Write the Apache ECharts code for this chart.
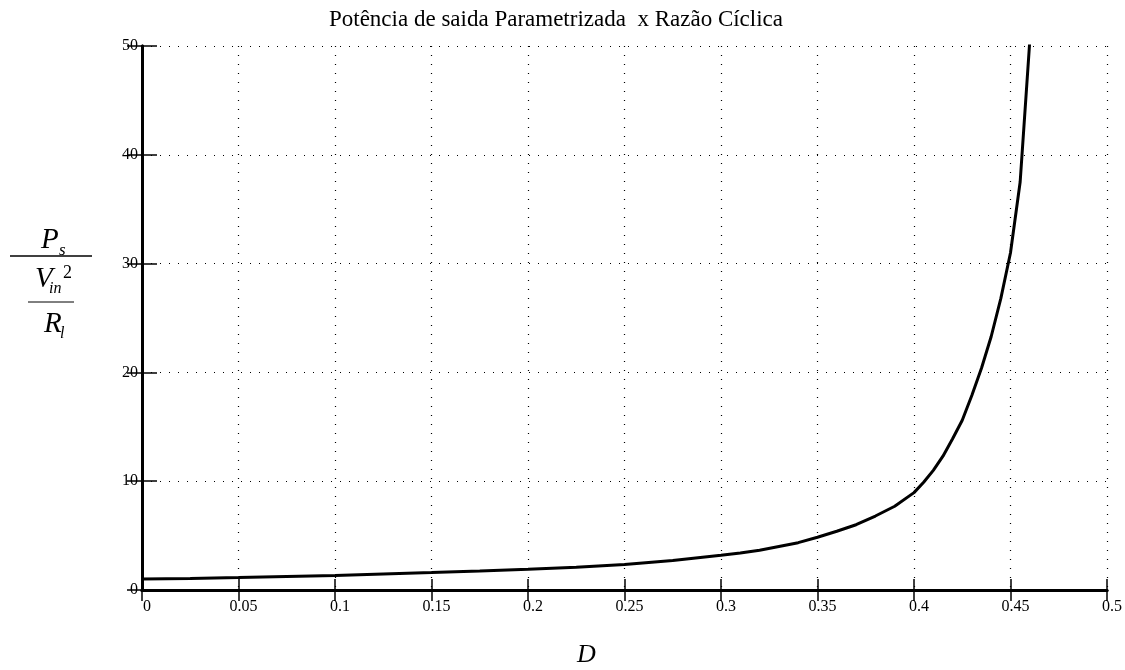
<!DOCTYPE html>
<html>
<head>
<meta charset="utf-8">
<script src="https://cdn.jsdelivr.net/npm/echarts@6/dist/echarts.min.js"></script>
<style>html,body{margin:0;padding:0;background:#fff}#c{width:1125px;height:670px}</style>
</head>
<body>
<div id="c"></div>
<script>
// Data
var titleText = 'Potência de saida Parametrizada  x Razão Cíclica';
var dValues = [0, 0.025, 0.05, 0.075, 0.10, 0.125, 0.15, 0.175, 0.20, 0.225, 0.25, 0.275, 0.30, 0.31, 0.32, 0.33, 0.34, 0.35, 0.36, 0.37, 0.38, 0.39, 0.40, 0.405, 0.41, 0.415, 0.42, 0.425, 0.43, 0.435, 0.44, 0.445, 0.45, 0.455, 0.46];
var powerValues = [1.00, 1.06, 1.15, 1.25, 1.34, 1.47, 1.60, 1.74, 1.90, 2.10, 2.35, 2.72, 3.20, 3.40, 3.65, 4.00, 4.35, 4.85, 5.40, 6.00, 6.80, 7.70, 8.95, 9.90, 11.0, 12.3, 13.9, 15.6, 17.9, 20.4, 23.3, 26.8, 31.0, 37.5, 50.5];
var xTickValues = [0, 0.05, 0.1, 0.15, 0.2, 0.25, 0.3, 0.35, 0.4, 0.45, 0.5];
var yTickValues = [0, 10, 20, 30, 40, 50];

var serif = '"Liberation Serif", "DejaVu Serif", serif';
var series = dValues.map(function (d, i) { return [d, powerValues[i]]; });

var chart = echarts.init(document.getElementById('c'));
var dotted = { color: '#000', width: 1.2, type: [1, 8] };
var axisLine = { show: true, lineStyle: { color: '#000', width: 3 } };

chart.setOption({
  backgroundColor: '#fff',
  animation: false,
  grid: { left: 142, right: 16, top: 46, bottom: 80, containLabel: false },
  xAxis: [{
    type: 'value', min: 0, max: 0.5, interval: 0.05,
    axisLine: axisLine,
    axisTick: { show: true, inside: true, length: 11, lineStyle: { color: '#000', width: 1.5 } },
    axisLabel: {
      color: '#000', fontFamily: serif, fontSize: 16, margin: 9, padding: [0, 0, 0, 10],
      formatter: function (v) {
        for (var i = 0; i < xTickValues.length; i++) if (Math.abs(v - xTickValues[i]) < 1e-9) return String(xTickValues[i]);
        return '';
      }
    },
    splitLine: { show: true, lineStyle: dotted }
  }, {
    type: 'value', position: 'top', min: 0, max: 0.5, interval: 0.05,
    axisLine: axisLine,
    axisTick: { show: true, inside: true, length: 11, lineStyle: { color: '#000', width: 1.5 } },
    axisLabel: { show: false }, splitLine: { show: false }
  }],
  yAxis: [{
    type: 'value', min: 0, max: 50, interval: 10,
    axisLine: axisLine,
    axisTick: { show: true, inside: true, length: 15, lineStyle: { color: '#000', width: 1.5 } },
    axisLabel: {
      color: '#000', fontFamily: serif, fontSize: 16, margin: 4,
      formatter: function (v) { return yTickValues.indexOf(v) >= 0 ? String(v) : ''; }
    },
    splitLine: { show: true, lineStyle: dotted }
  }, {
    type: 'value', position: 'right', min: 0, max: 50, interval: 10,
    axisLine: axisLine,
    axisTick: { show: true, inside: true, length: 15, lineStyle: { color: '#000', width: 1.5 } },
    axisLabel: { show: false }, splitLine: { show: false }
  }],
  series: [{
    type: 'line', data: series, showSymbol: false, symbol: 'none', clip: true,
    lineStyle: { color: '#000', width: 3 }, smooth: false
  }],
  graphic: [
    { type: 'text', x: 556, y: 20, style: { text: titleText, font: '23px ' + serif, fill: '#000', align: 'center', verticalAlign: 'middle' } },
    { type: 'text', left: 41, top: 226, style: { text: 'P', font: 'italic 29px ' + serif, fill: '#000' } },
    { type: 'text', left: 59, top: 242, style: { text: 's', font: 'italic 17px ' + serif, fill: '#000' } },
    { type: 'line', shape: { x1: 10, y1: 256, x2: 92, y2: 256 }, style: { stroke: '#000', lineWidth: 1.5 } },
    { type: 'text', left: 35, top: 265, style: { text: 'V', font: 'italic 29px ' + serif, fill: '#000' } },
    { type: 'text', left: 49, top: 281, style: { text: 'in', font: 'italic 16px ' + serif, fill: '#000' } },
    { type: 'text', left: 63, top: 264, style: { text: '2', font: '18px ' + serif, fill: '#000' } },
    { type: 'line', shape: { x1: 28, y1: 302, x2: 74, y2: 302 }, style: { stroke: '#000', lineWidth: 1 } },
    { type: 'text', left: 44, top: 310, style: { text: 'R', font: 'italic 29px ' + serif, fill: '#000' } },
    { type: 'text', left: 60, top: 326, style: { text: 'l', font: 'italic 16px ' + serif, fill: '#000' } },
    { type: 'text', left: 577, top: 642, style: { text: 'D', font: 'italic 26px ' + serif, fill: '#000' } }
  ]
});
</script>
</body>
</html>
